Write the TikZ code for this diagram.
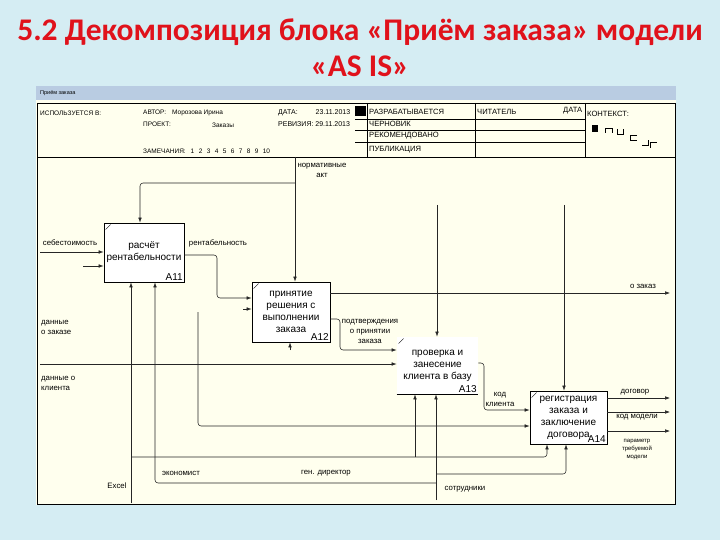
\documentclass[tikz,border=0pt]{standalone}
\usepackage{fontspec}
\setmainfont{Liberation Sans}
\newfontfamily\titlefont{Carlito}
\usetikzlibrary{arrows.meta, positioning, calc}
\definecolor{slidebg}{HTML}{D5EDF3}
\definecolor{sheetcream}{HTML}{FFFFEE}
\definecolor{barblue}{HTML}{B9CCE2}
\definecolor{titlered}{HTML}{E0121B}
\tikzset{
    fnbox/.style={rectangle, draw=black, line width=0.8pt, fill=white, align=center, font=\fontsize{10}{12}\selectfont, inner sep=0pt},
    boxid/.style={font=\fontsize{10}{11}\selectfont, inner sep=1.5pt, anchor=south east},
    lbl/.style={font=\fontsize{7.8}{10}\selectfont, align=center, inner sep=0pt},
    hdr/.style={font=\fontsize{6.5}{7}\selectfont, inner sep=0pt, anchor=west},
    hdrbig/.style={hdr, font=\fontsize{7.6}{8}\selectfont},
    arr/.style={-{Latex[length=5pt, width=3.6pt]}, line width=0.55pt, draw=black!85},
    rule/.style={line width=0.5pt, draw=black}
}

\begin{document}
\begin{tikzpicture}[x=1pt, y=-1pt]
    \useasboundingbox (0,0) rectangle (720,540);
    \fill[slidebg] (0,0) rectangle (720,540);
    % title
    \node[font=\titlefont\bfseries\fontsize{31.5}{34}\selectfont, text=titlered] (title1) at (360,32) {5.2 Декомпозиция блока «Приём заказа» модели};
    \node[font=\titlefont\bfseries\fontsize{31.5}{34}\selectfont, text=titlered] (title2) at (360,66) {«AS IS»};
    % sheet and frame
    \fill[barblue] (36,86) rectangle (676,100);
    \node[hdr, font=\fontsize{5.5}{6}\selectfont] (sheetname) at (40,93) {Приём заказа};
    \fill[sheetcream] (36,100) rectangle (676,505);
    \draw[line width=0.8pt] (37,103) rectangle (675,504);
    \draw[rule] (37,157) -- (675,157);
    \draw[rule] (367,103) -- (367,157);
    \draw[rule] (475,103) -- (475,157);
    \draw[rule] (585,103) -- (585,157);
    \foreach \y in {119,130,142}
        \draw[rule] (355,\y) -- (585,\y);
    \fill (355,106) rectangle (366,116);
    % header texts
    \node[hdr] (usedat) at (40,113) {ИСПОЛЬЗУЕТСЯ В:};
    \node[hdr] (author) at (143,113) {АВТОР:\hspace{6pt}Морозова Ирина};
    \node[hdr] (project) at (143,124) {ПРОЕКТ:};
    \node[hdr] (projname) at (212,125) {Заказы};
    \node[hdr] (notes) at (143,151) {ЗАМЕЧАНИЯ:\hspace{5pt}1\hspace{4.4pt}2\hspace{4.4pt}3\hspace{4.4pt}4\hspace{4.4pt}5\hspace{4.4pt}6\hspace{4.4pt}7\hspace{4.4pt}8\hspace{4.4pt}9\hspace{4.4pt}10};
    \node[hdr, font=\fontsize{7}{8}\selectfont] (date) at (278,113) {ДАТА:\hspace{18pt}23.11.2013};
    \node[hdr, font=\fontsize{7}{8}\selectfont] (rev) at (278,124) {РЕВИЗИЯ: 29.11.2013};
    \node[hdrbig] (working) at (369,112) {РАЗРАБАТЫВАЕТСЯ};
    \node[hdrbig] (draft) at (369,124) {ЧЕРНОВИК};
    \node[hdrbig] (recomm) at (369,136) {РЕКОМЕНДОВАНО};
    \node[hdrbig] (publ) at (369,150) {ПУБЛИКАЦИЯ};
    \node[hdrbig] (reader) at (477,112) {ЧИТАТЕЛЬ};
    \node[hdrbig] (rdate) at (563,111) {ДАТА};
    \node[hdrbig] (context) at (587,114) {КОНТЕКСТ:};
    % context marks
    \fill (592,125) rectangle (598,132);
    \draw[rule] (605,133) -- (605,128) -- (612,128) -- (612,133);
    \draw[rule] (617,129) -- (617,134) -- (623,134) -- (623,129);
    \draw[rule] (637,135) -- (630,135) -- (630,140) -- (637,140);
    \draw[rule] (642,145) -- (648,145) -- (648,140);
    \draw[rule] (650,148) -- (650,142) -- (657,142);

    % function boxes
    \node[fnbox, minimum width=80pt, minimum height=59pt] (a11) at (144,252.5) {расчёт\\рентабельности};
    \node[fnbox, minimum width=78pt, minimum height=60pt] (a12) at (291,312) {принятие\\решения с\\выполнении\\заказа};
    \node[fnbox, draw=none, minimum width=81pt, minimum height=57pt] (a13) at (437.5,365.5) {проверка и\\занесение\\клиента в базу};
    \node[fnbox, minimum width=77pt, minimum height=53pt] (a14) at (568.5,417.5) {регистрация\\заказа и\\заключение\\договора};
    \draw[line width=0.8pt] (a13.south west) -- (a13.south east);
    \node[boxid] (a11id) at (a11.south east) {A11};
    \node[boxid] (a12id) at (a12.south east) {A12};
    \node[boxid] (a13id) at (a13.south east) {A13};
    \node[boxid] (a14id) at (a14.south east) {A14};
    \foreach \b in {a11,a12,a13,a14}
        \draw[line width=0.4pt] ([shift={(2,7)}]\b.north west) -- ([shift={(7,2)}]\b.north west);

    % free ends
    \coordinate (normtop) at (295,157);
    \coordinate (normbr) at (295,183);
    \coordinate (sebin) at (40,252);
    \coordinate (stub11) at (83,266);
    \coordinate (rentin) at (217,298);
    \coordinate (stub12) at (243,309);
    \coordinate (zakout) at (670,293);
    \coordinate (c13) at (437,205);
    \coordinate (c14) at (564,205);
    \coordinate (podt) at (340,350);
    \coordinate (klin) at (40,364);
    \coordinate (lin14) at (198,312);
    \coordinate (lin14c) at (198,426);
    \coordinate (kodk) at (484,410);
    \coordinate (dogout) at (670,398);
    \coordinate (kodmout) at (670,412);
    \coordinate (parout) at (670,431);
    \coordinate (excel) at (131,503);
    \coordinate (exbr) at (131,457);
    \coordinate (ex13) at (415,457);
    \coordinate (ex14) at (547,457);
    \coordinate (sotr) at (436,500);
    \coordinate (sobr) at (436,474);
    \coordinate (so14) at (566,474);
    \coordinate (sobr2) at (436,483);
    \coordinate (ekon) at (155,483);
    \coordinate (stub12m) at (290,350);

    % controls
    \draw[arr] (normtop) -- (normtop |- a12.north);
    \draw[arr, rounded corners=3pt] (normbr) -| ([xshift=-4pt]a11.north);
    \draw[arr] (c13) -- (c13 |- a13.north);
    \draw[arr] (c14) -- (c14 |- a14.north);
    % inputs
    \draw[arr] (sebin) -- (sebin -| a11.west);
    \draw[arr] (stub11) -- (stub11 -| a11.west);
    \draw[arr, rounded corners=3pt] ([yshift=-2.5pt]a11.east) -| (rentin) -- (rentin -| a12.west);
    \draw[arr] (stub12) -- (stub12 -| a12.west);
    \draw[arr, rounded corners=3pt] ([yshift=-7pt]a12.east) -| (podt) -- (podt -| a13.west);
    \draw[arr] (klin) -- (klin -| a13.west);
    \draw[arr, rounded corners=3pt] (lin14) -- (lin14c) -- (lin14c -| a14.west);
    \draw[arr, rounded corners=3pt] ([yshift=2.5pt]a13.east) -| (kodk) -- (kodk -| a14.west);
    % outputs
    \draw[arr] (zakout -| a12.east) -- (zakout);
    \draw[arr] (dogout -| a14.east) -- (dogout);
    \draw[arr] (kodmout -| a14.east) -- (kodmout);
    \draw[arr] (parout -| a14.east) -- (parout);
    % mechanisms
    \draw[arr] (excel) -- (excel |- a11.south);
    \draw[arr, rounded corners=3pt] (exbr) -- (ex14) -- (ex14 |- a14.south);
    \draw[arr] (ex13) -- (ex13 |- a13.south);
    \draw[arr] (sotr) -- (sotr |- a13.south);
    \draw[arr, rounded corners=3pt] (sobr) -- (so14) -- (so14 |- a14.south);
    \draw[arr, rounded corners=3pt] (sobr2) -- (ekon) -- (ekon |- a11.south);
    \draw[arr] (stub12m) -- (stub12m |- a12.south);

    % arrow labels
    \node[lbl] (normlbl) at (322,170) {нормативные\\акт};
    \node[lbl] (seblbl) at (70,243) {себестоимость};
    \node[lbl] (rentlbl) at (218,243) {рентабельность};
    \node[lbl, align=left, anchor=west] (zaklbl) at (41,327) {данные\\о заказе};
    \node[lbl, align=left, anchor=west] (kllbl) at (41,383) {данные о\\ клиента};
    \node[lbl] (zakoutlbl) at (643,286) {о заказ};
    \node[lbl] (podtlbl) at (370,331) {подтверждения\\о принятии\\заказа};
    \node[lbl] (kodklbl) at (500,399) {код\\клиента};
    \node[lbl] (doglbl) at (635,392) {договор};
    \node[lbl] (kodmlbl) at (637,417) {код модели};
    \node[lbl, font=\fontsize{6}{8}\selectfont] (parlbl) at (637,449) {параметр\\требуемой\\модели};
    \node[lbl] (excellbl) at (117,486) {Excel};
    \node[lbl] (ekonlbl) at (181,473) {экономист};
    \node[lbl] (gendlbl) at (326,473) {ген. директор};
    \node[lbl] (sotrlbl) at (465,489) {сотрудники};
\end{tikzpicture}
\end{document}
